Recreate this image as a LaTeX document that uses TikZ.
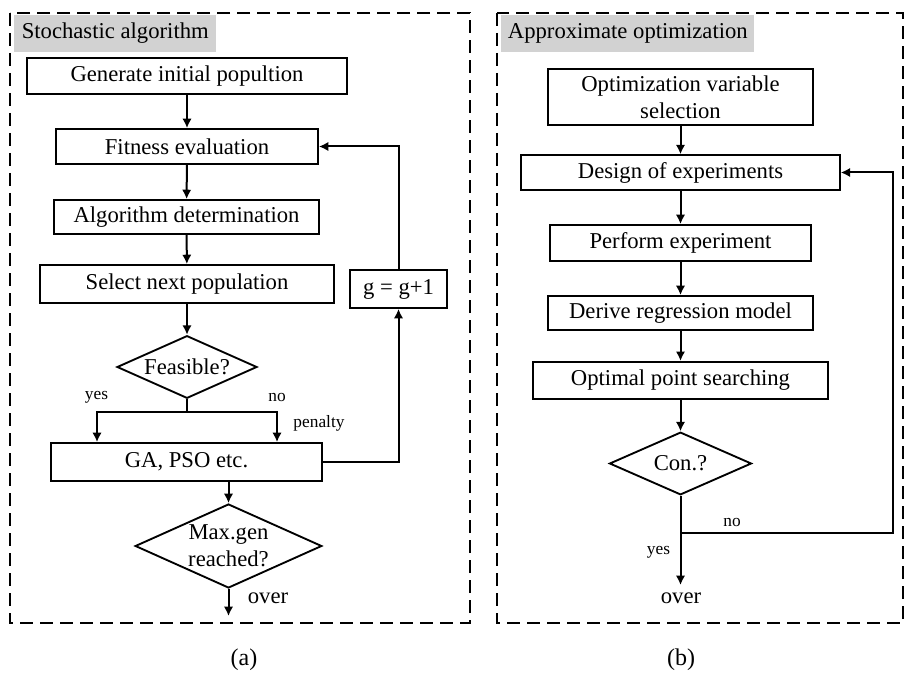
\documentclass[tikz,border=0pt]{standalone}
\usepackage{fontspec}
\setmainfont{Liberation Serif}
\usetikzlibrary{shapes.geometric, arrows.meta}
\definecolor{hdrgray}{RGB}{210,210,210}

\begin{document}
\begin{tikzpicture}[x=0.75pt,y=-0.75pt,
  procbox/.style={draw=black, line width=1.4pt, rectangle, inner sep=0pt, align=center, font=\fontsize{17}{20}\selectfont},
  decide/.style={draw=black, line width=1.4pt, diamond, shape aspect=2.2, inner sep=0pt, align=center, font=\fontsize{17}{20}\selectfont},
  header/.style={fill=hdrgray, anchor=west, inner xsep=5pt, inner ysep=0pt, minimum height=27.75pt, font=\fontsize{17}{20}\selectfont},
  frame/.style={draw=black, line width=2.2pt, dash pattern=on 9.5pt off 5.5pt},
  flow/.style={line width=1.5pt, -{Latex[length=7pt,width=7pt]}},
  plain/.style={line width=1.5pt},
  tag/.style={inner sep=0pt, font=\fontsize{13}{15}\selectfont},
  word/.style={inner sep=0pt, font=\fontsize{17}{20}\selectfont},
  ]
\useasboundingbox (0,0) rectangle (906,684);

% panel (a)
\draw[frame] (10,13) rectangle (470,623);
\node[header, minimum width=151.5pt] (hdra) at (14,33.5) {Stochastic algorithm};

\node[procbox, minimum width=240pt, minimum height=27pt] (gen) at (187,76) {Generate initial popultion};
\node[procbox, minimum width=196.5pt, minimum height=26.25pt] (fit) at (187,146.5) {Fitness evaluation};
\node[procbox, minimum width=199pt, minimum height=25.5pt] (alg) at (186.5,217) {Algorithm determination};
\node[procbox, minimum width=220.5pt, minimum height=28.5pt] (sel) at (187,284) {Select next population};
\node[procbox, minimum width=73pt, minimum height=28.5pt] (gpl) at (398.5,289) {g = g+1};
\node[decide, minimum width=105pt, minimum height=47pt] (feas) at (187,367) {Feasible?};
\node[procbox, minimum width=203pt, minimum height=28.5pt] (ga) at (186.5,462) {GA, PSO etc.};
\node[decide, minimum width=140pt, minimum height=63pt] (maxg) at (228.5,546) {Max.gen\\reached?};

\coordinate (yb) at (97,412);
\coordinate (nb) at (277,412);
\coordinate (gend) at (228.5,616);

\draw[flow] (gen) -- (fit);
\draw[flow] (fit) -- (alg);
\draw[flow] (alg) -- (sel);
\draw[flow] (sel) -- (feas);
\draw[plain] (feas.south) -- (feas.south |- yb);
\draw[flow] (feas.south |- yb) -- (yb) -- (yb |- ga.north);
\draw[flow] (feas.south |- nb) -- (nb) -- (nb |- ga.north);
\draw[flow] (ga.east) -| (gpl.south);
\draw[flow] (gpl.north) |- (fit.east);
\draw[flow] (maxg.north |- ga.south) -- (maxg.north);
\draw[flow] (maxg.south) -- (gend);

\node[tag] (yesa) at (96.5,397) {yes};
\node[tag] (noa) at (277,397) {no};
\node[tag] (pen) at (319,423) {penalty};
\node[word] (overa) at (268,598) {over};

% panel (b)
\draw[frame] (497,13) rectangle (903,623);
\node[header, minimum width=189.75pt] (hdrb) at (501,33.5) {Approximate optimization};

\node[procbox, minimum width=199pt, minimum height=42pt] (ovs) at (680.5,97) {Optimization variable\\selection};
\node[procbox, minimum width=239pt, minimum height=26pt] (doe) at (680.5,172.5) {Design of experiments};
\node[procbox, minimum width=196pt, minimum height=27pt] (pe) at (680.5,243) {Perform experiment};
\node[procbox, minimum width=199pt, minimum height=25.5pt] (drm) at (680.5,313) {Derive regression model};
\node[procbox, minimum width=221pt, minimum height=28pt] (ops) at (680.5,380.5) {Optimal point searching};
\node[decide, minimum width=106.5pt, minimum height=47pt] (con) at (680.5,463.5) {Con.?};

\coordinate (cj) at (680.5,533);
\coordinate (cr) at (893,533);
\coordinate (cend) at (680.5,585);

\draw[flow] (ovs) -- (doe);
\draw[flow] (doe) -- (pe);
\draw[flow] (pe) -- (drm);
\draw[flow] (drm) -- (ops);
\draw[flow] (ops) -- (con);
\draw[flow] (con.south) -- (cend);
\draw[flow] (cj) -- (cr) |- (doe.east);

\node[tag] (nob) at (732,522) {no};
\node[tag] (yesb) at (658.5,552) {yes};
\node[word] (overb) at (681,598) {over};

% captions
\node[word, font=\fontsize{18}{20}\selectfont] (capa) at (244,660) {(a)};
\node[word, font=\fontsize{18}{20}\selectfont] (capb) at (681,660) {(b)};
\end{tikzpicture}
\end{document}
